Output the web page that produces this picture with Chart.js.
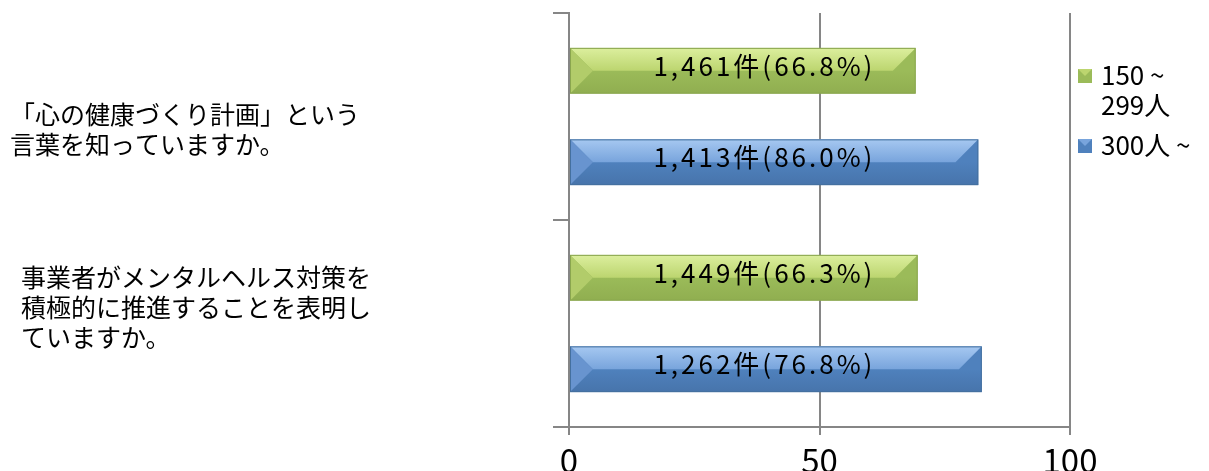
<!DOCTYPE html>
<html lang="ja">
<head>
<meta charset="utf-8">
<script src="https://cdn.jsdelivr.net/npm/chart.js@4.4.1/dist/chart.umd.min.js"></script>
<style>
  html, body { margin: 0; padding: 0; background: #fff; }
</style>
</head>
<body>
<canvas id="chart" width="1209" height="471"></canvas>
<script>
// 設問
const questions = [
  ['「心の健康づくり計画」という', '言葉を知っていますか。'],
  ['事業者がメンタルヘルス対策を', '積極的に推進することを表明し', 'ていますか。']
];
// 系列名（凡例は2行折り返し）
const seriesNames = [['150 ~', '299人'], ['300人 ~']];
// 棒の長さ
const smallCo = [69.2, 69.6];   // 150~299人
const largeCo = [81.7, 82.4];   // 300人~
// 棒に載せる件数と割合
const smallCounts = ['1,461', '1,449'];
const smallPct = ['66.8', '66.3'];
const largeCounts = ['1,413', '1,262'];
const largePct = ['86.0', '76.8'];
const xTicks = [0, 50, 100];

const FONT = '"Noto Sans CJK JP", "Noto Sans", sans-serif';
const AXIS = '#868686';

const shades = [
  { base: '#9bbb59', top: ['#dcef9e', '#bcd56f'], left: '#b2cc6a', bottomEnd: '#90ae50', edge: '#8aa64e' },
  { base: '#4f81bd', top: ['#a6c8f1', '#78a4dc'], left: '#6894cf', bottomEnd: '#4774ab', edge: '#44709f' }
];

// 面取り風の棒
const bevelBars = {
  id: 'bevelBars',
  afterDatasetsDraw(chart) {
    const ctx = chart.ctx;
    chart.data.datasets.forEach((ds, di) => {
      const s = shades[di];
      chart.getDatasetMeta(di).data.forEach(bar => {
        const x0 = bar.base, x1 = bar.x;
        const top = bar.y - bar.height / 2, bot = bar.y + bar.height / 2, mid = bar.y;
        const d = bar.height / 2;
        ctx.save();
        let g = ctx.createLinearGradient(0, mid, 0, bot);
        g.addColorStop(0, s.base);
        g.addColorStop(1, s.bottomEnd);
        ctx.fillStyle = g;
        ctx.fillRect(x0, top, x1 - x0, bot - top);

        g = ctx.createLinearGradient(0, top, 0, mid);
        g.addColorStop(0, s.top[0]);
        g.addColorStop(1, s.top[1]);
        ctx.fillStyle = g;
        ctx.beginPath();
        ctx.moveTo(x0, top); ctx.lineTo(x1, top);
        ctx.lineTo(x1 - d, mid); ctx.lineTo(x0 + d, mid);
        ctx.closePath(); ctx.fill();

        ctx.fillStyle = s.left;
        ctx.beginPath();
        ctx.moveTo(x0, top); ctx.lineTo(x0 + d, mid); ctx.lineTo(x0, bot);
        ctx.closePath(); ctx.fill();

        ctx.strokeStyle = s.edge;
        ctx.lineWidth = 1;
        ctx.strokeRect(x0 + 0.5, top + 0.5, x1 - x0 - 1, bot - top - 1);
        ctx.restore();
      });
    });
  }
};

// 件数(割合)ラベル
const valueLabels = {
  id: 'valueLabels',
  afterDatasetsDraw(chart) {
    const ctx = chart.ctx;
    const xs = chart.scales.x;
    const texts = [
      smallCounts.map((c, i) => c + '件(' + smallPct[i] + '%)'),
      largeCounts.map((c, i) => c + '件(' + largePct[i] + '%)')
    ];
    ctx.save();
    ctx.font = '26px ' + FONT;
    ctx.letterSpacing = '3px';
    ctx.fillStyle = '#000';
    ctx.textAlign = 'center';
    ctx.textBaseline = 'middle';
    chart.data.datasets.forEach((ds, di) => {
      chart.getDatasetMeta(di).data.forEach((bar, i) => {
        ctx.fillText(texts[di][i], xs.getPixelForValue(39), bar.y - 5);
      });
    });
    ctx.restore();
  }
};

// 左側の設問文
const questionText = {
  id: 'questionText',
  afterDraw(chart) {
    const ctx = chart.ctx;
    const ys = chart.scales.y;
    const place = [{ x: 10, dy: 13 }, { x: 21, dy: -16 }];
    ctx.save();
    ctx.font = '25px ' + FONT;
    ctx.fillStyle = '#000';
    ctx.textAlign = 'left';
    ctx.textBaseline = 'middle';
    questions.forEach((lines, i) => {
      const c = ys.getPixelForValue(i) + place[i].dy;
      const y0 = c - (lines.length - 1) * 15;
      lines.forEach((t, k) => ctx.fillText(t, place[i].x, y0 + k * 30));
    });
    ctx.restore();
  }
};

// 右側の凡例
const sideLegend = {
  id: 'sideLegend',
  afterDraw(chart) {
    const ctx = chart.ctx;
    const x = chart.chartArea.right + 8;
    const rows = [76, 146];
    ctx.save();
    ctx.font = '26px ' + FONT;
    ctx.textBaseline = 'middle';
    seriesNames.forEach((lines, i) => {
      const s = shades[i];
      const y = rows[i];
      ctx.fillStyle = s.base;
      ctx.fillRect(x, y - 7, 14, 14);
      ctx.fillStyle = s.top[1];
      ctx.beginPath();
      ctx.moveTo(x, y - 7); ctx.lineTo(x + 14, y - 7); ctx.lineTo(x + 7, y);
      ctx.closePath(); ctx.fill();
      ctx.fillStyle = '#000';
      lines.forEach((t, k) => ctx.fillText(t, x + 23, y - 1 + k * 30));
    });
    ctx.restore();
  }
};

new Chart(document.getElementById('chart'), {
  type: 'bar',
  data: {
    labels: questions.map(q => q.join('')),
    datasets: [
      { label: seriesNames[0].join(''), data: smallCo, backgroundColor: 'rgba(0,0,0,0)' },
      { label: seriesNames[1].join(''), data: largeCo, backgroundColor: 'rgba(0,0,0,0)' }
    ]
  },
  options: {
    indexAxis: 'y',
    responsive: false,
    animation: false,
    categoryPercentage: 0.884,
    barPercentage: 0.5,
    layout: { padding: { top: 13, right: 139, left: 0, bottom: 0 } },
    plugins: {
      legend: { display: false },
      tooltip: { enabled: false }
    },
    scales: {
      x: {
        min: 0,
        max: 100,
        afterBuildTicks: scale => { scale.ticks = xTicks.map(v => ({ value: v })); },
        afterFit: scale => { scale.height = 44; },
        grid: { color: AXIS, lineWidth: 2, tickLength: 8 },
        border: { color: AXIS, width: 2 },
        ticks: { color: '#000', font: { size: 33, family: FONT }, padding: 6, maxRotation: 0 }
      },
      y: {
        afterFit: scale => { scale.width = 569; },
        grid: { offset: true, drawOnChartArea: false, color: AXIS, lineWidth: 2, tickLength: 16 },
        border: { color: AXIS, width: 2 },
        ticks: { display: false }
      }
    }
  },
  plugins: [bevelBars, valueLabels, questionText, sideLegend]
});
</script>
</body>
</html>
